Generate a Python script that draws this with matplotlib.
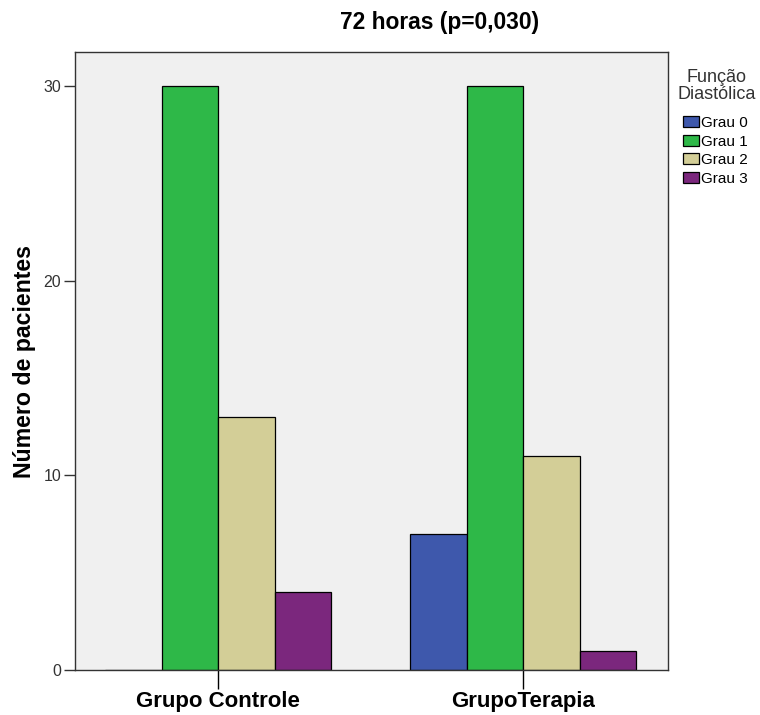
import matplotlib
matplotlib.use("Agg")
import matplotlib.pyplot as plt
import numpy as np

plt.rcParams['font.family'] = ['Liberation Sans', 'DejaVu Sans']

groups = ['Grupo Controle', 'GrupoTerapia']
graus = ['Grau 0', 'Grau 1', 'Grau 2', 'Grau 3']
counts = {
    'Grau 0': [0, 7],
    'Grau 1': [30, 30],
    'Grau 2': [13, 11],
    'Grau 3': [4, 1],
}
colors = ['#3e58ac', '#2eb848', '#d3ce97', '#7b277d']

fig = plt.figure(figsize=(7.6, 7.15), dpi=100)
ax = fig.add_axes([0.0987, 0.0629, 0.7803, 0.8644])
ax.set_facecolor('#f0f0f0')

x = np.arange(len(groups))
w = 0.185
for i, g in enumerate(graus):
    ax.bar(x + (i - 1.5) * w, counts[g], width=w, color=colors[i],
           edgecolor='black', linewidth=0.9, label=g)

ax.set_xlim(-0.469, 1.475)
ax.set_ylim(0, 31.75)
ax.set_yticks([0, 10, 20, 30])
ax.set_xticks(x)
ax.set_xticklabels(groups, fontsize=16, fontweight='bold')
ax.tick_params(axis='y', labelsize=11.5, length=8, width=1, colors='#333333', pad=2)
ax.tick_params(axis='x', length=14, width=1, pad=1)
for s in ax.spines.values():
    s.set_color('#333333')
    s.set_linewidth(1)

ax.set_ylabel('Número de pacientes', fontsize=16.7, fontweight='bold', labelpad=5.5)
fig.text(440 / 760, 1 - 22 / 715, '72 horas (p=0,030)', fontsize=16.4,
         fontweight='bold', ha='center', va='center')

# legend title as separate text (tight line spacing, larger gap below)
fig.text(717 / 760, 1 - 86 / 715, 'Função\nDiastólica', fontsize=13,
         color='#333333', ha='center', va='center', multialignment='center',
         linespacing=1.0)
leg = ax.legend(loc='upper left', bbox_to_anchor=(683 / 760, 1 - 116 / 715),
                bbox_transform=fig.transFigure, frameon=False, fontsize=11,
                handlelength=1.05, handleheight=0.75, handletextpad=0.15,
                labelspacing=0.3, borderaxespad=0, borderpad=0)

fig.savefig('out.png', dpi=100)
